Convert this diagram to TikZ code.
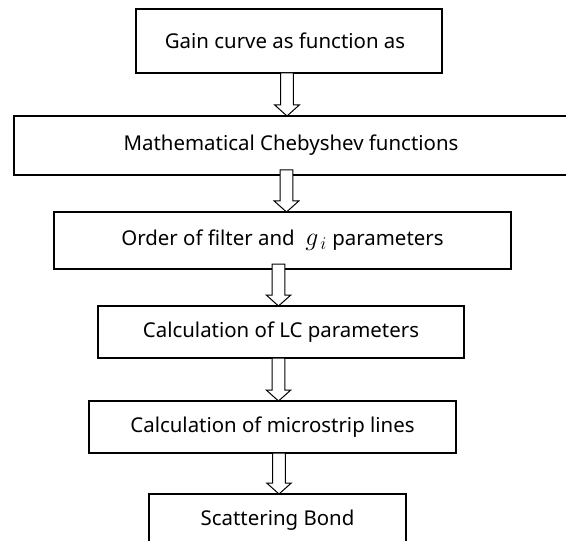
\documentclass[tikz,border=0pt]{standalone}
\usepackage{fontspec}
\setmainfont{Noto Sans}
\usetikzlibrary{calc}
\tikzset{
  box/.style={draw=black, line width=1.2bp, minimum width=#1, inner sep=0pt, outer sep=0pt, align=center, font=\fontsize{20.5}{24}\selectfont},
  blockarr/.style={draw=black, fill=white, line width=1bp, line join=miter}
}
\newcommand\blkarrow[4]{% #1 from node, #2 to node, #3 x centre (px), #4 overlap into upper box (px)
  \draw[blockarr] let \p1=(#1.south), \p2=(#2.north) in
    ({#3bp-6.3bp},{\y1+#4bp}) -- ({#3bp-6.3bp},{\y2+11bp}) -- ({#3bp-12.3bp},{\y2+11bp})
    -- ({#3bp},{\y2}) -- ({#3bp+12.3bp},{\y2+11bp}) -- ({#3bp+6.3bp},{\y2+11bp})
    -- ({#3bp+6.3bp},{\y1+#4bp}) -- cycle;
}
\begin{document}
\begin{tikzpicture}[x=1bp,y=-1bp]
\useasboundingbox (0,0) rectangle (566,541);
\node[box=562bp, minimum height=59bp] (b2) at (295,145.5) {\hspace*{-8bp}Mathematical Chebyshev functions};
\node[box=306bp, minimum height=64bp] (b1) at (289,41) {\hspace*{-8bp}Gain curve as function as};
\node[box=457bp, minimum height=57bp] (b3) at (282.5,240.5) {Order of filter and \ \scalebox{1.25}{$g_{\,i}$} parameters};
\node[box=366bp, minimum height=52bp] (b4) at (281,332) {Calculation of LC parameters};
\node[box=367bp, minimum height=52bp] (b5) at (272.5,427) {Calculation of microstrip lines};
\node[box=257bp, minimum height=52bp] (b6) at (277.5,520) {Scattering Bond};
\blkarrow{b1}{b2}{287}{0}
\blkarrow{b2}{b3}{286.5}{5}
\blkarrow{b3}{b4}{278.5}{5}
\blkarrow{b4}{b5}{278.5}{0}
\blkarrow{b5}{b6}{279}{0}
\end{tikzpicture}
\end{document}
